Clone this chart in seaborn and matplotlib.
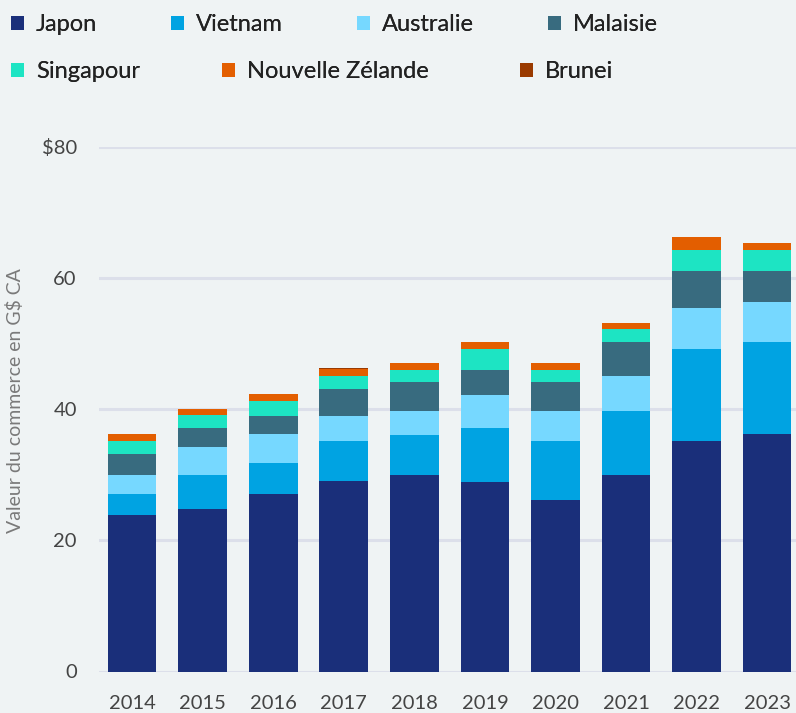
import matplotlib
matplotlib.use("Agg")
import matplotlib.pyplot as plt
import seaborn as sns
import numpy as np
import pandas as pd
from matplotlib.patches import Patch

# ---- data ----
years = ["2014", "2015", "2016", "2017", "2018", "2019", "2020", "2021", "2022", "2023"]
japon = [23.8, 24.8, 27.1, 29.1, 30.0, 28.9, 26.2, 30.0, 35.1, 36.2]
vietnam = [3.3, 5.2, 4.7, 6.0, 6.0, 8.2, 8.9, 9.8, 14.1, 14.0]
australie = [2.9, 4.2, 4.4, 3.8, 3.8, 5.1, 4.7, 5.3, 6.2, 6.1]
malaisie = [3.2, 2.9, 2.7, 4.2, 4.4, 3.8, 4.4, 5.1, 5.7, 4.8]
singapour = [1.9, 2.0, 2.3, 2.0, 1.8, 3.2, 1.8, 2.0, 3.2, 3.2]
nouvelle_zelande = [1.1, 0.9, 1.1, 1.1, 1.1, 1.1, 1.1, 1.0, 2.0, 1.1]
brunei = [0.02, 0.02, 0.02, 0.02, 0.02, 0.02, 0.02, 0.02, 0.02, 0.02]

series_names = ["Japon", "Vietnam", "Australie", "Malaisie", "Singapour",
                "Nouvelle Zélande", "Brunei"]
series_values = [japon, vietnam, australie, malaisie, singapour,
                 nouvelle_zelande, brunei]
colors = ["#1a2f7a", "#00a3e2", "#76d8ff", "#386b7f", "#1de4c3",
          "#e35e00", "#9a3a00"]

y_ticks = [0, 20, 40, 60, 80]
y_tick_labels = ["0", "20", "40", "60", "$80"]
y_label = "Valeur du commerce en G$ CA"

bg = "#eff3f4"
W, H = 796, 713

sns.set_theme(style="white")
plt.rcParams['font.family'] = ['Lato', 'DejaVu Sans']

fig = plt.figure(figsize=(W / 100, H / 100), dpi=100)
fig.patch.set_facecolor(bg)
ax = fig.add_axes([99 / W, (H - 671.5) / H, (W - 99) / W, (671.5 - 147) / H])
ax.set_facecolor(bg)

# cumulative stacks
df = pd.DataFrame({name: vals for name, vals in zip(series_names, series_values)},
                  index=years)
cum = df.cumsum(axis=1)

for name, col in reversed(list(zip(series_names, colors))):
    sns.barplot(x=years, y=cum[name].values, color=col, width=0.69,
                saturation=1, ax=ax, zorder=3, linewidth=0)

ax.set_xlim(-0.47, 9.41)
ax.set_ylim(0, 80)
for s in ax.spines.values():
    s.set_visible(False)

for t in y_ticks:
    ax.axhline(t, color="#dcdfea", linewidth=2.2, zorder=1)

ax.set_yticks(y_ticks, y_tick_labels)
ax.tick_params(axis="y", length=0, pad=16, labelsize=14.5, labelcolor="#444444")
ax.tick_params(axis="x", length=0, pad=17, labelsize=14.5, labelcolor="#444444")
ax.set_xlabel("")
ax.set_ylabel("")

fig.text(15 / W, 1 - 401 / H, y_label, rotation=90, ha="center", va="center",
         fontsize=14, color="#7a7a7a")

# legend entries (flow layout: one small legend per entry)
legend_pos = [(11, 24.5), (171, 24.5), (357, 24.5), (548, 24.5),
              (11, 72), (222, 72), (520, 72)]
fs = 17
for name, col, (px, py) in zip(series_names, colors, legend_pos):
    lg = fig.legend([Patch(facecolor=col, edgecolor="none")], [name],
                    loc="center left", bbox_to_anchor=(px / W, 1 - py / H),
                    frameon=False, fontsize=fs, handlelength=0.55,
                    handleheight=0.55, handletextpad=0.5, borderpad=0,
                    borderaxespad=0, labelcolor="#222222")
    fig.add_artist(lg)

fig.savefig("out.png", dpi=100, facecolor=bg)
